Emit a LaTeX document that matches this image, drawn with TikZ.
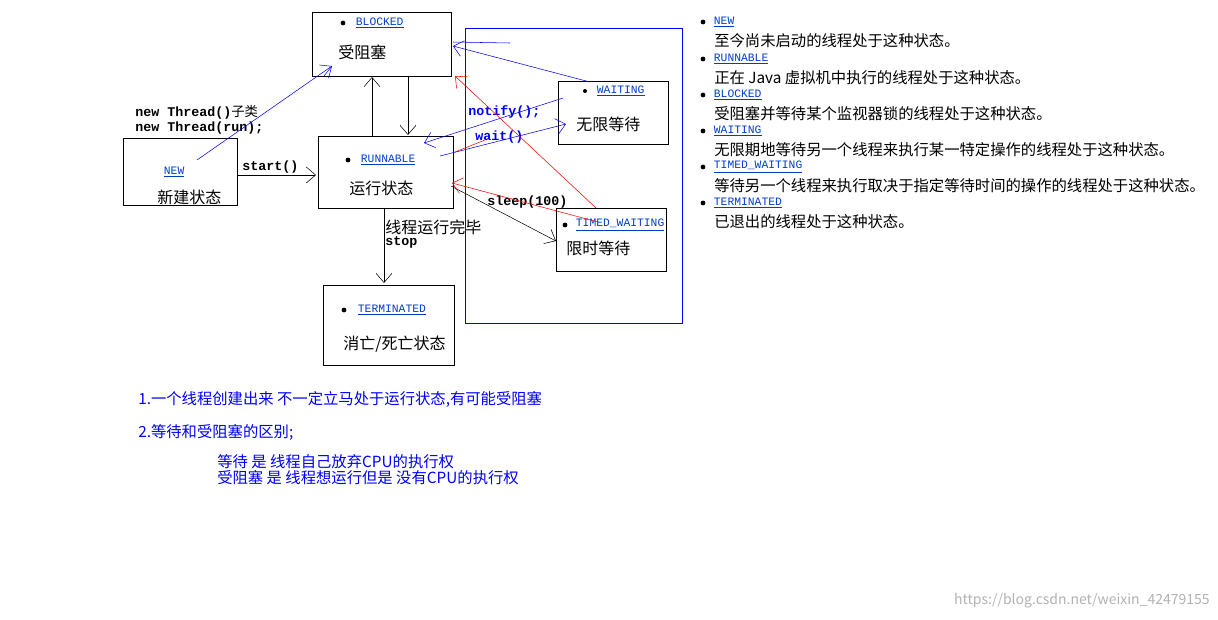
\documentclass[tikz,border=0pt]{standalone}
\usepackage{fontspec}
\setmainfont{Noto Sans CJK SC}
\setmonofont{Liberation Mono}
\newfontfamily\cjkb{Noto Sans CJK SC}
\usetikzlibrary{arrows.meta}
\begin{document}
\begin{tikzpicture}[x=0.75pt,y=-0.75pt,
  box/.style={draw,thin,inner sep=0pt},
  tip/.style={-{Straight Barb[length=7pt,width=12pt]}},
  lab/.style={text=blue!70!cyan!80!black,font=\ttfamily\fontsize{8.5}{9}\selectfont,inner sep=0.5pt},
  cn/.style={font=\fontsize{12}{13}\selectfont,inner sep=0pt},
  code/.style={font=\ttfamily\bfseries\fontsize{10}{11}\selectfont,inner sep=0pt,anchor=west},
  bl/.style={blue,thin},
  rd/.style={red,thin}]
\useasboundingbox (0,0) rectangle (1218,619);
% boxes
\node[box,minimum width=104.25pt,minimum height=48pt,anchor=north west] (blocked) at (312,12) {};
\node[box,minimum width=85.5pt,minimum height=50.25pt,anchor=north west] (new) at (123,138) {};
\node[box,minimum width=101.25pt,minimum height=54pt,anchor=north west] (run) at (318,136) {};
\node[box,minimum width=82.5pt,minimum height=47.25pt,anchor=north west] (wait) at (558,81) {};
\node[box,minimum width=82.5pt,minimum height=47.25pt,anchor=north west] (tw) at (556,208) {};
\node[box,minimum width=98.25pt,minimum height=60pt,anchor=north west] (term) at (323,285) {};
\draw[blue] (465,28) rectangle (682,323);
% box contents
\node[lab,anchor=west] (lb) at (355,23) {\underline{BLOCKED}}; \fill (343,23) circle (2.4);
\node[cn,anchor=west] at (338,52) {受阻塞};
\node[lab,anchor=west] at (163,172) {\underline{NEW}};
\node[cn,anchor=west] at (157,197) {新建状态};
\node[lab,anchor=west] at (360,160) {\underline{RUNNABLE}}; \fill (348,160) circle (2.4);
\node[cn,anchor=west] at (349,188) {运行状态};
\node[lab,anchor=west] at (596,91) {\underline{WAITING}}; \fill (585,91) circle (2);
\node[cn,anchor=west] at (576,124) {无限等待};
\node[lab,anchor=west] at (575,225) {\underline{TIMED\_WAITING}}; \fill (565,225) circle (2.4);
\node[cn,anchor=west] at (566,248) {限时等待};
\node[lab,anchor=west] at (357,310) {\underline{TERMINATED}}; \fill (344,310) circle (2.4);
\node[cn,anchor=west] at (343,344) {消亡/死亡状态};
% labels
\node[code] at (135,112) {new Thread(){\cjkb\mdseries 子类}};
\node[code] at (135,128) {new Thread(run);};
\node[code] at (242,167) {start()};
\node[code,text=blue] at (468,112) {notify();};
\node[code,text=blue] at (475,137) {wait()};
\node[code] at (487,202) {sleep(100)};
\node[cn,anchor=west] at (385,227) {线程运行完毕};
\node[code] at (385,242) {stop};
% connectors
\coordinate (s2) at (316,175);
\draw[tip] (new.east |- s2) -- (s2);
\draw[tip] (372,136) -- (372,77);
\draw[tip] (408,77) -- (408,135);
\draw[tip] (384,208) -- (384,283);
\draw[tip] (451,186) -- (556,241);
\draw[bl,tip] (197,160) -- (332,66);
\draw[bl] (324,76) -- (332,66);
\draw[bl,tip] (590,82) -- (453,46);
\draw[bl] (453,42) -- (510,43);
\draw[bl,tip] (563,98) -- (424,143);
\draw[bl,tip] (440,156) -- (566,124);
\draw[rd,tip] (596,208) -- (455,76);
\draw[rd,tip] (598,222) -- (452,183);
\draw[rd] (455,152) -- (485,140);
% right list
\foreach \y/\t/\d in {22/NEW/至今尚未启动的线程处于这种状态。,
  59/RUNNABLE/正在 Java 虚拟机中执行的线程处于这种状态。,
  95/BLOCKED/受阻塞并等待某个监视器锁的线程处于这种状态。,
  131/WAITING/无限期地等待另一个线程来执行某一特定操作的线程处于这种状态。,
  167/TIMED\_WAITING/等待另一个线程来执行取决于指定等待时间的操作的线程处于这种状态。,
  203/TERMINATED/已退出的线程处于这种状态。}{
  \fill (703,\y) circle (2.4);
  \node[lab,anchor=west] at (713,\y) {\underline{\t}};
  \node[cn,anchor=west,font=\fontsize{11.5}{12}\selectfont] at (714,\y+19) {\d};
}
% bottom notes
\tikzset{note/.style={cn,anchor=west,text=blue,font=\fontsize{11.5}{12}\selectfont}}
\node[note] at (138,399) {1.一个线程创建出来 不一定立马处于运行状态,有可能受阻塞};
\node[note] at (138,432) {2.等待和受阻塞的区别;};
\node[note] at (217,462) {等待 是 线程自己放弃CPU的执行权};
\node[note] at (217,478) {受阻塞 是 线程想运行但是 没有CPU的执行权};
\node[anchor=east,text=gray!60,font=\fontsize{10.5}{11}\selectfont,inner sep=0pt] at (1210,601) {https://blog.csdn.net/weixin\_42479155};
\end{tikzpicture}
\end{document}
